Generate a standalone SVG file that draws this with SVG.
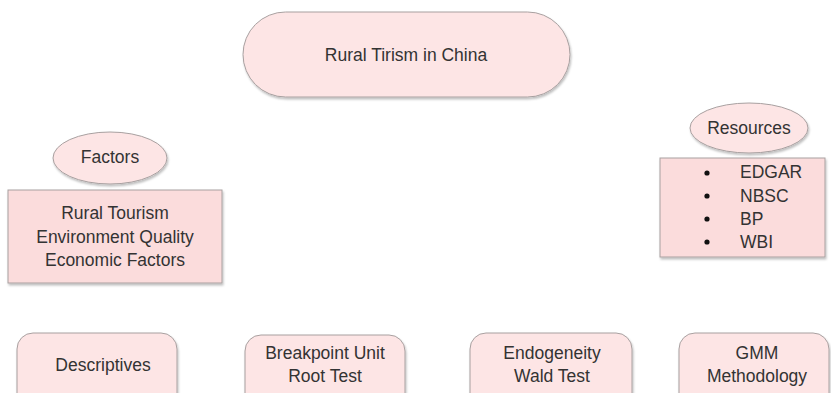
<svg xmlns="http://www.w3.org/2000/svg" width="831" height="393" viewBox="0 0 831 393">
<defs>
<filter id="sh" x="-10%" y="-10%" width="120%" height="130%">
<feDropShadow dx="1" dy="2" stdDeviation="1.2" flood-color="#000" flood-opacity="0.25"/>
</filter>
</defs>
<style>
.n{fill:#fde5e5;stroke:#a8a0a0;stroke-width:1;filter:url(#sh)}
.b{fill:#fbdcdc;stroke:#a8a0a0;stroke-width:1;filter:url(#sh)}
text{font-family:"Liberation Sans",Arial,sans-serif;font-size:17.5px;fill:#333;text-anchor:middle;dominant-baseline:central}
.l{text-anchor:start}
</style>
<rect width="831" height="393" fill="#fff"/>
<g id="connectors"></g>
<g id="root">
<rect class="n" x="243" y="12" width="327" height="85" rx="42.5"/>
<text x="406" y="55">Rural Tirism in China</text>
</g>
<g id="factors">
<ellipse class="n" cx="110" cy="158" rx="57" ry="26"/>
<text x="110" y="157">Factors</text>
</g>
<g id="factors-list">
<rect class="b" x="8" y="190" width="214" height="93"/>
<text x="115" y="213">Rural Tourism</text>
<text x="115" y="237">Environment Quality</text>
<text x="115" y="260">Economic Factors</text>
</g>
<g id="resources">
<ellipse class="n" cx="749" cy="128" rx="59" ry="25"/>
<text x="749" y="128">Resources</text>
</g>
<g id="resources-list">
<rect class="b" x="660" y="158" width="165" height="99"/>
<circle cx="707" cy="173" r="2.6" fill="#111"/>
<circle cx="707" cy="196" r="2.6" fill="#111"/>
<circle cx="707" cy="219" r="2.6" fill="#111"/>
<circle cx="707" cy="242" r="2.6" fill="#111"/>
<text class="l" x="740" y="172">EDGAR</text>
<text class="l" x="740" y="196">NBSC</text>
<text class="l" x="740" y="219">BP</text>
<text class="l" x="740" y="242">WBI</text>
</g>
<g id="descriptives">
<rect class="n" x="17" y="333" width="160" height="90" rx="16"/>
<text x="103" y="365">Descriptives</text>
</g>
<g id="breakpoint">
<rect class="n" x="245" y="335" width="160" height="90" rx="16"/>
<text x="325" y="353">Breakpoint Unit</text>
<text x="325" y="376">Root Test</text>
</g>
<g id="endogeneity">
<rect class="n" x="470" y="333" width="162" height="90" rx="16"/>
<text x="552" y="353">Endogeneity</text>
<text x="552" y="376">Wald Test</text>
</g>
<g id="gmm">
<rect class="n" x="679" y="333" width="150" height="90" rx="16"/>
<text x="757" y="353">GMM</text>
<text x="757" y="376">Methodology</text>
</g>
</svg>
